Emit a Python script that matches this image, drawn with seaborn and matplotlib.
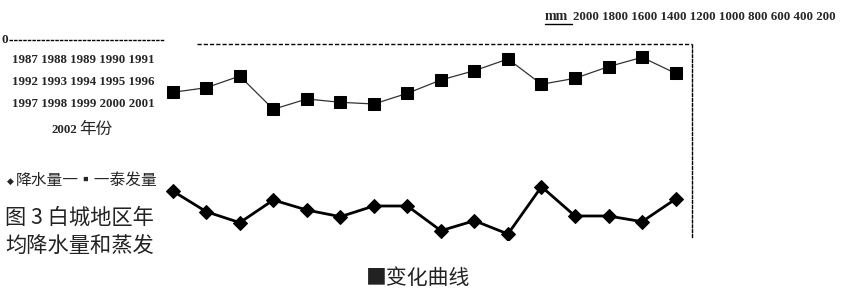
import matplotlib
matplotlib.use("Agg")
import matplotlib.pyplot as plt
from matplotlib.lines import Line2D
import seaborn as sns
import pandas as pd

years = list(range(1987, 2003))
evaporation = [1507, 1554, 1673, 1334, 1439, 1405, 1388, 1497,
               1633, 1728, 1847, 1589, 1650, 1769, 1864, 1701]
precipitation = [500, 289, 177, 408, 306, 238, 347, 347,
                 95, 197, 61, 544, 245, 245, 187, 418]
y_labels = ["2000", "1800", "1600", "1400", "1200", "1000", "800", "600", "400", "200"]
year_rows = ["1987 1988 1989 1990 1991", "1992 1993 1994 1995 1996",
             "1997 1998 1999 2000 2001"]

df = pd.DataFrame({"year": years, "evap": evaporation, "prec": precipitation})

sns.set_theme(style="white")
plt.rcParams['font.family'] = ['Liberation Serif', 'Noto Sans CJK SC', 'DejaVu Sans']

W, H = 861, 297
fig = plt.figure(figsize=(W / 100, H / 100), dpi=100)
ax = fig.add_axes([160 / W, (H - 240) / H, (692 - 160) / W, (240 - 44) / H])

sns.lineplot(data=df, x="year", y="evap", ax=ax, color="#333333", linewidth=0.9,
             marker="s", markersize=8.5, markerfacecolor="black", markeredgecolor="black")
sns.lineplot(data=df, x="year", y="prec", ax=ax, color="black", linewidth=2.0,
             marker="D", markersize=7, markerfacecolor="black", markeredgecolor="black")

ax.set_xlim(1986.62, 2002.49)
ax.set_ylim(0, 2000)
ax.set_xticks([])
ax.set_yticks([])
ax.set_xlabel("")
ax.set_ylabel("")
for s in ["left", "bottom", "top"]:
    ax.spines[s].set_visible(False)
ax.spines["right"].set_visible(True)
ax.spines["right"].set_color("black")
ax.spines["right"].set_linewidth(1.0)
ax.spines["right"].set_linestyle((0, (2, 1.5)))
ax.spines["right"].set_bounds(30, 2000)
ax.plot([(197 - 160) / (692 - 160), 1], [1, 1], transform=ax.transAxes,
        color="black", linewidth=1.0, linestyle=(0, (3, 1.5)), clip_on=False)

def fx(px):
    return px / W

def fy(py):
    return 1 - py / H

cjk = ["Noto Sans CJK SC", "DejaVu Sans"]

# top y labels
fig.text(fx(545), fy(17), "mm", fontsize=10, fontweight="bold", va="center", ha="left")
fig.add_artist(Line2D([fx(545), fx(572)], [fy(24), fy(24)], color="black", linewidth=1.0))
fig.text(fx(573), fy(17), " ".join(y_labels), fontsize=9.35, fontweight="bold",
         va="center", ha="left")

# zero line
fig.text(fx(2), fy(40), "0", fontsize=9.5, fontweight="bold", va="center", ha="left")
fig.add_artist(Line2D([fx(9), fx(164)], [fy(40), fy(40)], color="black",
                      linewidth=1.0, linestyle=(0, (2.5, 0.8))))

for i, row in enumerate(year_rows):
    fig.text(fx(12), fy(60 + 22 * i), row, fontsize=9.3, fontweight="bold",
             va="center", ha="left")
fig.text(fx(51), fy(130), "2002", fontsize=9.3, fontweight="bold", va="center", ha="left")
fig.text(fx(79), fy(129), "年份", fontsize=12, va="center", ha="left", family=cjk)

fig.text(fx(7), fy(181), "◆", fontsize=6.5, va="center", ha="left",
         family=["DejaVu Sans"])
fig.text(fx(16), fy(180), "降水量一▪一泰发量", fontsize=11.3, va="center", ha="left",
         family=cjk)

fig.text(fx(5), fy(218), "图 3 白城地区年", fontsize=15.3, va="center", ha="left",
         family=cjk, color="#222222")
fig.text(fx(5), fy(246), "均降水量和蒸发", fontsize=15.3, va="center", ha="left",
         family=cjk, color="#222222")
fig.text(fx(366), fy(278), "■变化曲线", fontsize=15, va="center", ha="left",
         family=cjk, color="#222222")

fig.savefig("out.png", dpi=100, facecolor="white")
